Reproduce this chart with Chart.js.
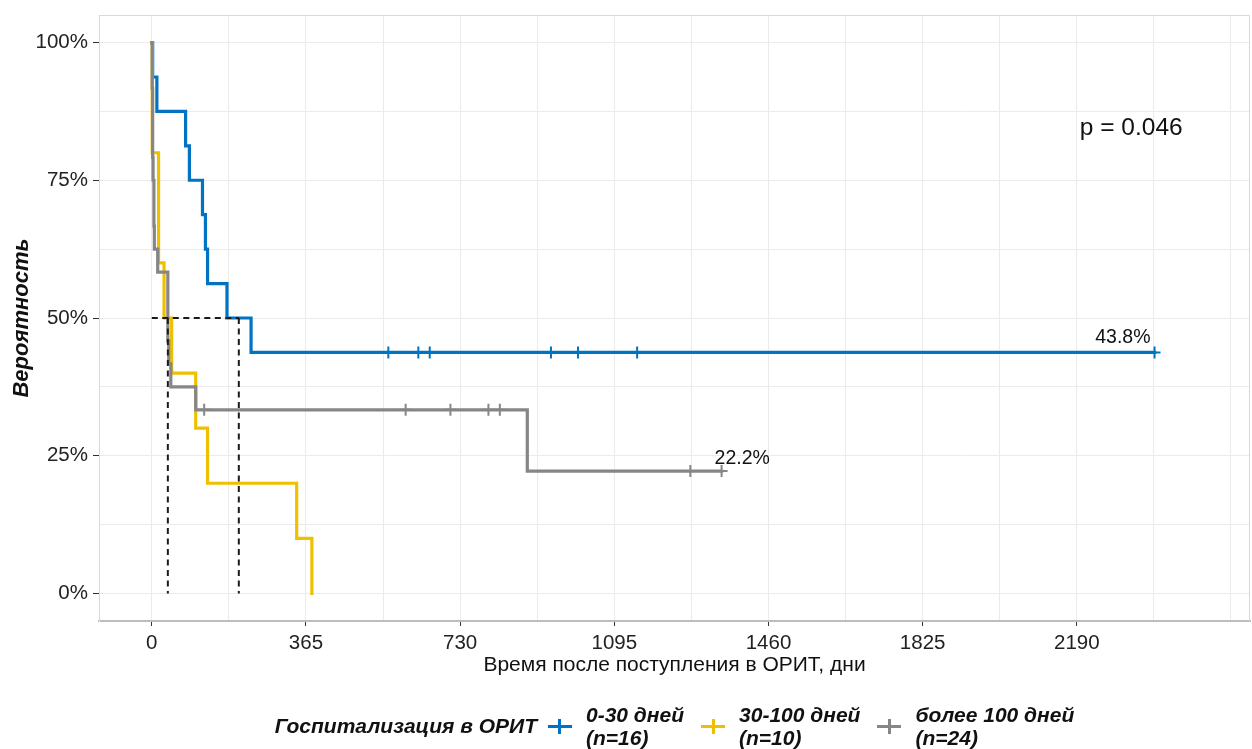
<!DOCTYPE html>
<html lang="ru">
<head>
<meta charset="utf-8">
<title>Выживаемость после госпитализации в ОРИТ</title>
<script src="https://cdn.jsdelivr.net/npm/chart.js@4.4.1/dist/chart.umd.min.js"></script>
<style>
  html, body { margin: 0; padding: 0; background: #ffffff; }
  #wrap { position: relative; width: 1252px; height: 749px; overflow: hidden;
          font-family: "Liberation Sans", Arial, sans-serif; }
  #km { position: absolute; left: 0; top: 0; }
  #legend { position: absolute; left: 99px; width: 1151px; top: 703px; height: 46px;
            display: flex; justify-content: center; align-items: center; color: #111; }
  #legend .ttl { font: italic bold 21px "Liberation Sans", Arial, sans-serif; margin-right: 11px; }
  #legend .key { position: relative; width: 24px; height: 20px; margin-right: 14px; }
  #legend .key .h { position: absolute; left: 0; top: 9px; width: 24px; height: 3px; }
  #legend .key .v { position: absolute; left: 10.5px; top: 3px; width: 3px; height: 15px; }
  #legend .lab { font: italic bold 21px "Liberation Sans", Arial, sans-serif; line-height: 23px;
                 margin-right: 17px; white-space: nowrap; }
  #legend .lab:last-child { margin-right: 0; }
</style>
</head>
<body>
<div id="wrap">
  <canvas id="km" width="1252" height="749"></canvas>
  <div id="legend"></div>
</div>
<script>
// ---- Kaplan–Meier data (time in days, survival in %) ----
const groupLabels = ['0-30 дней', '30-100 дней', 'более 100 дней'];
const groupN = [16, 10, 24];
const groupColors = ['#0073C2', '#EFC000', '#868686'];

const blueTimes = [0, 2, 12, 80, 89, 120, 127, 132, 178, 235];
const blueSurv  = [100, 93.75, 87.5, 81.25, 75, 68.75, 62.5, 56.25, 50, 43.75];
const blueCensor = [560, 631, 658, 945, 1009, 1149, 2374];

const yellowTimes = [0, 1, 16, 29, 47, 104, 132, 343, 379];
const yellowSurv  = [100, 80, 60, 50, 40, 30, 20, 10, 0];
const yellowCensor = [];

const grayTimes = [0, 1, 2, 3, 5, 6, 14, 38, 40, 45, 104, 889];
const graySurv  = [100, 91.67, 79.17, 75, 66.67, 62.5, 58.33, 45.83, 41.67, 37.5, 33.33, 22.22];
const grayCensor = [124, 601, 707, 797, 824, 1275, 1349];

const medianTimes = [206, 38, 38];
const pValueText = 'p = 0.046';

const xMajorTicks = [0, 365, 730, 1095, 1460, 1825, 2190];
const yMajorTicks = [0, 25, 50, 75, 100];

const xTitle = 'Время после поступления в ОРИТ, дни';
const yTitle = 'Вероятность';
const legendTitle = 'Госпитализация в ОРИТ';

// ---- helpers ----
const FONT = '"Liberation Sans", Arial, sans-serif';

function survAt(times, surv, t) {
  let s = surv[0];
  for (let i = 0; i < times.length; i++) if (times[i] <= t) s = surv[i];
  return s;
}
function curvePoints(times, surv, censor) {
  const pts = times.map((t, i) => ({ x: t, y: surv[i] }));
  const last = Math.max(times[times.length - 1], ...(censor.length ? censor : [0]));
  if (last > times[times.length - 1]) pts.push({ x: last, y: surv[surv.length - 1] });
  return pts;
}
function censorPoints(times, surv, censor) {
  return censor.map(t => ({ x: t, y: survAt(times, surv, t) }));
}

const groups = [
  { times: blueTimes, surv: blueSurv, censor: blueCensor },
  { times: yellowTimes, surv: yellowSurv, censor: yellowCensor },
  { times: grayTimes, surv: graySurv, censor: grayCensor }
];

const datasets = [];
groups.forEach((g, i) => {
  datasets.push({
    label: groupLabels[i],
    data: curvePoints(g.times, g.surv, g.censor),
    stepped: 'before',
    borderColor: groupColors[i],
    borderWidth: 3.2,
    borderCapStyle: 'square',
    pointRadius: 0,
    fill: false,
    order: 10 - i
  });
});
groups.forEach((g, i) => {
  datasets.push({
    label: groupLabels[i] + ' (цензурированные)',
    data: censorPoints(g.times, g.surv, g.censor),
    showLine: false,
    pointStyle: 'cross',
    pointRadius: 6,
    pointBorderWidth: 2,
    borderColor: groupColors[i],
    backgroundColor: groupColors[i],
    order: 3
  });
});
// median survival guide lines
const medianDash = { borderColor: '#1a1a1a', borderWidth: 2, borderDash: [6, 4.5],
                     pointRadius: 0, fill: false, order: 1 };
datasets.push(Object.assign({ label: 'median-h', data: [{ x: 0, y: 50 }, { x: Math.max(...medianTimes), y: 50 }] }, medianDash));
[...new Set(medianTimes)].forEach((t, i) => {
  datasets.push(Object.assign({ label: 'median-v' + i, data: [{ x: t, y: 50 }, { x: t, y: 0 }] }, medianDash));
});

// grid ticks: majors plus half-steps for the minor grid
const xGrid = [];
for (let v = 0; v <= 2555 + 1e-6; v += 182.5) xGrid.push(v);
const yGrid = [];
for (let v = 0; v <= 100 + 1e-6; v += 12.5) yGrid.push(v);

const panelFrame = {
  id: 'panelFrame',
  beforeDatasetsDraw(chart) {
    const { ctx, chartArea: a } = chart;
    ctx.save();
    ctx.strokeStyle = '#d9d9d9';
    ctx.lineWidth = 1;
    ctx.beginPath();
    ctx.moveTo(a.left, a.top + 0.5);
    ctx.lineTo(a.right - 0.5, a.top + 0.5);
    ctx.lineTo(a.right - 0.5, a.bottom);
    ctx.stroke();
    ctx.restore();
  }
};

const annotations = {
  id: 'kmText',
  afterDraw(chart) {
    const { ctx, chartArea: a } = chart;
    const xs = chart.scales.x, ys = chart.scales.y;
    ctx.save();
    ctx.fillStyle = '#111';
    // p-value
    ctx.font = '24.5px ' + FONT;
    ctx.textAlign = 'left';
    ctx.textBaseline = 'middle';
    ctx.fillText(pValueText, xs.getPixelForValue(2190) + 3, ys.getPixelForValue(84.5));
    // final survival labels
    ctx.font = '19.5px ' + FONT;
    ctx.textBaseline = 'alphabetic';
    const bLast = blueCensor[blueCensor.length - 1];
    const bS = blueSurv[blueSurv.length - 1];
    ctx.textAlign = 'right';
    ctx.fillText(bS.toFixed(1) + '%', xs.getPixelForValue(bLast) - 4, ys.getPixelForValue(bS) - 9);
    const gLast = grayCensor[grayCensor.length - 1];
    const gS = graySurv[graySurv.length - 1];
    ctx.textAlign = 'left';
    ctx.fillText(gS.toFixed(1) + '%', xs.getPixelForValue(gLast) - 7, ys.getPixelForValue(gS) - 7);
    // axis titles
    ctx.font = '21px ' + FONT;
    ctx.textAlign = 'center';
    ctx.textBaseline = 'middle';
    ctx.fillText(xTitle, (a.left + a.right) / 2, 665);
    ctx.translate(22, (a.top + a.bottom) / 2);
    ctx.rotate(-Math.PI / 2);
    ctx.font = 'italic bold 22px ' + FONT;
    ctx.fillText(yTitle, 0, 0);
    ctx.restore();
  }
};

new Chart(document.getElementById('km'), {
  type: 'line',
  data: { datasets },
  options: {
    responsive: false,
    animation: false,
    events: [],
    layout: { autoPadding: false, padding: { top: 15, right: 2, left: 0, bottom: 0 } },
    plugins: { legend: { display: false }, tooltip: { enabled: false }, title: { display: false } },
    scales: {
      x: {
        type: 'linear',
        min: -125,
        max: 2600,
        afterFit(s) { s.height = 128; s.paddingLeft = 0; s.paddingRight = 0; },
        afterBuildTicks(s) { s.ticks = xGrid.map(v => ({ value: v })); },
        ticks: {
          autoSkip: false, maxRotation: 0, padding: 5,
          color: '#222', font: { family: FONT, size: 20.5 },
          callback: v => (xMajorTicks.includes(v) ? String(v) : '')
        },
        grid: {
          color: '#ebebeb', lineWidth: 1, tickLength: 5,
          tickColor: c => (c.tick && xMajorTicks.includes(c.tick.value) ? '#333' : 'rgba(0,0,0,0)')
        },
        border: { display: true, color: '#bdbdbd', width: 2 }
      },
      y: {
        type: 'linear',
        min: -5,
        max: 105,
        afterFit(s) { s.width = 99; s.paddingTop = 0; s.paddingBottom = 0; },
        afterBuildTicks(s) { s.ticks = yGrid.map(v => ({ value: v })); },
        ticks: {
          autoSkip: false, padding: 5,
          color: '#222', font: { family: FONT, size: 20.5 },
          callback: v => (yMajorTicks.includes(v) ? v + '%' : '')
        },
        grid: {
          color: '#ebebeb', lineWidth: 1, tickLength: 6,
          tickColor: c => (c.tick && yMajorTicks.includes(c.tick.value) ? '#333' : 'rgba(0,0,0,0)')
        },
        border: { display: true, color: '#d9d9d9', width: 1 }
      }
    }
  },
  plugins: [panelFrame, annotations]
});

// ---- legend ----
const legend = document.getElementById('legend');
const ttl = document.createElement('div');
ttl.className = 'ttl';
ttl.textContent = legendTitle;
legend.appendChild(ttl);
groupLabels.forEach((name, i) => {
  const key = document.createElement('div');
  key.className = 'key';
  key.innerHTML = '<div class="h"></div><div class="v"></div>';
  key.querySelector('.h').style.background = groupColors[i];
  key.querySelector('.v').style.background = groupColors[i];
  legend.appendChild(key);
  const lab = document.createElement('div');
  lab.className = 'lab';
  const l1 = document.createElement('div'); l1.textContent = name;
  const l2 = document.createElement('div'); l2.textContent = '(n=' + groupN[i] + ')';
  lab.appendChild(l1); lab.appendChild(l2);
  legend.appendChild(lab);
});
</script>
</body>
</html>
